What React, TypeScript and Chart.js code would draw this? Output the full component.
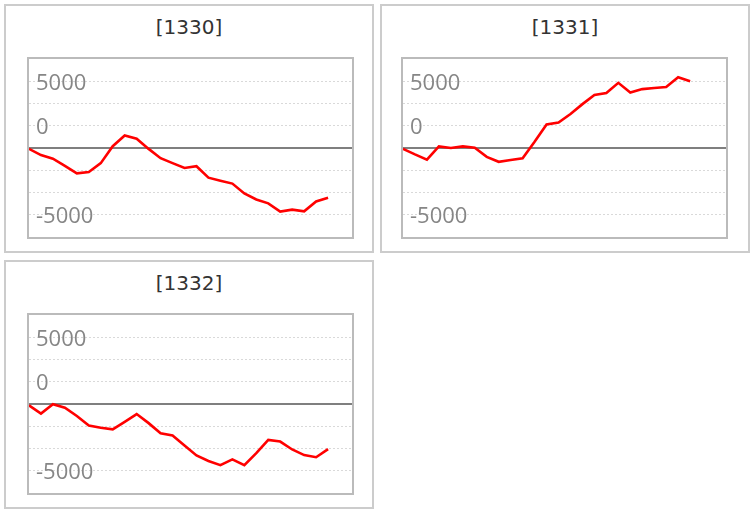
import React, { useEffect, useRef } from 'react';
import { Chart, registerables } from 'chart.js';

Chart.register(...registerables);

// x categories (28 slots; series fill the first 25-26)
const categories = [
  '1', '2', '3', '4', '5', '6', '7', '8', '9', '10', '11', '12', '13', '14',
  '15', '16', '17', '18', '19', '20', '21', '22', '23', '24', '25', '26', '27', '28',
];

const titles = ['[1330]', '[1331]', '[1332]'];

const series1330 = [
  -100, -800, -1200, -2000, -2850, -2700, -1700, 200, 1400, 1050, -100, -1150, -1700,
  -2250, -2050, -3330, -3670, -4000, -5100, -5780, -6220, -7150, -6930, -7110, -6000, -5590,
];

const series1331 = [
  -100, -720, -1300, 170, 0, 180, 20, -1000, -1550, -1350, -1150, 700, 2650,
  2850, 3820, 4930, 5950, 6170, 7320, 6230, 6620, 6740, 6860, 7960, 7500,
];

const series1332 = [
  -150, -1070, -20, -420, -1350, -2420, -2660, -2850, -2000, -1130, -2150, -3290, -3540,
  -4660, -5780, -6400, -6870, -6220, -6870, -5520, -4030, -4220, -5110, -5740, -5980, -5070,
];

// y-axis range and the labels as printed in the reference
const yMin = -10000;
const yMax = 10000;
const yStep = 2500;
const yLabelValues = [7500, 2500, -7500];
const yLabelTexts = ['5000', '0', '-5000'];

const yLabelPlugin = {
  id: 'yLabelPlugin',
  beforeDatasetsDraw(chart: any) {
    const { ctx, chartArea, scales } = chart;
    ctx.save();
    ctx.font = '22px "Open Sans"';
    ctx.fillStyle = '#868686';
    ctx.textAlign = 'left';
    ctx.textBaseline = 'middle';
    yLabelValues.forEach((v, i) => {
      const y = scales.y.getPixelForValue(v);
      ctx.fillText(yLabelTexts[i], chartArea.left + 7, y + 2);
    });
    ctx.restore();
  },
};

type PanelProps = {
  title: string;
  data: number[];
  left: number;
  top: number;
  plotLeft: number;
};

function Panel({ title, data, left, top, plotLeft }: PanelProps) {
  const ref = useRef<HTMLCanvasElement>(null);

  useEffect(() => {
    if (!ref.current) return;
    const chart = new Chart(ref.current, {
      type: 'line',
      data: {
        labels: categories,
        datasets: [
          {
            data,
            borderColor: '#ff0000',
            borderWidth: 2.6,
            pointRadius: 0,
            pointHoverRadius: 0,
            tension: 0,
            fill: false,
          },
        ],
      },
      options: {
        animation: false,
        responsive: false,
        devicePixelRatio: 1,
        layout: { padding: 0 },
        events: [],
        plugins: {
          legend: { display: false },
          tooltip: { enabled: false },
          title: { display: false },
        },
        scales: {
          x: {
            display: false,
            offset: false,
          },
          y: {
            min: yMin,
            max: yMax,
            grid: {
              drawTicks: false,
              color: (c: any) => {
                const v = c.tick ? c.tick.value : 1;
                if (v === 0) return '#7f7f7f';
                if (v === yMin || v === yMax) return 'rgba(0,0,0,0)';
                return '#d9d9d9';
              },
              lineWidth: (c: any) => (c.tick && c.tick.value === 0 ? 2 : 1),
            },
            border: {
              display: false,
              dash: (c: any) => (c.tick && c.tick.value === 0 ? [] : [2, 2]),
            },
            ticks: {
              display: false,
              stepSize: yStep,
            },
          },
        },
      },
      plugins: [yLabelPlugin],
    });
    return () => chart.destroy();
  }, [data]);

  return (
    <div
      style={{
        position: 'absolute',
        left,
        top,
        width: 370,
        height: 249,
        boxSizing: 'border-box',
        border: '2px solid #cccccc',
        background: '#ffffff',
      }}
    >
      <div
        style={{
          position: 'absolute',
          left: 0,
          right: 0,
          top: 10,
          height: 22,
          lineHeight: '22px',
          textAlign: 'center',
          fontFamily: '"DejaVu Sans", Verdana, sans-serif',
          fontSize: 20,
          color: '#333333',
        }}
      >
        {title}
      </div>
      <div
        style={{
          position: 'absolute',
          left: plotLeft,
          top: 51,
          width: 323,
          height: 178,
          border: '2px solid #bbbbbb',
        }}
      >
        <canvas ref={ref} width={323} height={178} style={{ display: 'block', width: 323, height: 178 }} />
      </div>
    </div>
  );
}

export default function App() {
  return (
    <div style={{ position: 'absolute', left: 0, top: 0, width: 754, height: 514, background: '#ffffff' }}>
      <Panel title={titles[0]} data={series1330} left={4} top={4} plotLeft={21} />
      <Panel title={titles[1]} data={series1331} left={380} top={4} plotLeft={19} />
      <Panel title={titles[2]} data={series1332} left={4} top={260} plotLeft={21} />
    </div>
  );
}
